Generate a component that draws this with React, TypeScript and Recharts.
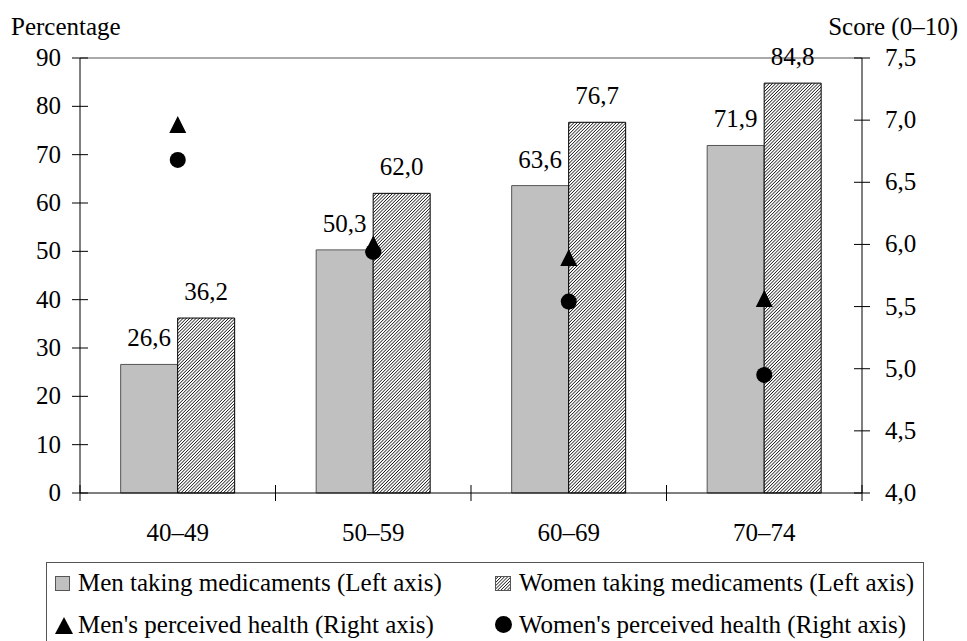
import {
  ComposedChart,
  Bar,
  Scatter,
  XAxis,
  YAxis,
  ReferenceLine,
  LabelList,
} from "recharts";

const ageGroups = ["40–49", "50–59", "60–69", "70–74"];
const menMedicaments = [26.6, 50.3, 63.6, 71.9];
const womenMedicaments = [36.2, 62.0, 76.7, 84.8];
const menHealth = [6.96, 6.0, 5.89, 5.56];
const womenHealth = [6.68, 5.94, 5.54, 4.95];
const leftTicks = [0, 10, 20, 30, 40, 50, 60, 70, 80, 90];
const rightTicks = [4.0, 4.5, 5.0, 5.5, 6.0, 6.5, 7.0, 7.5];

const data = ageGroups.map((group, i) => ({
  group,
  menMed: menMedicaments[i],
  womenMed: womenMedicaments[i],
  menHealth: menHealth[i],
  womenHealth: womenHealth[i],
}));

const FONT = '"Liberation Serif", "Times New Roman", serif';
const FS = 25;
const W = 967;
const H = 641;
const LEFT_W = 80;
const RIGHT_W = 105;
const BAND = (W - LEFT_W - RIGHT_W) / ageGroups.length;

const comma = (v: any) => Number(v).toFixed(1).replace(".", ",");

// ticks cross the axis line, so draw them ourselves
const LeftTick = ({ x, y, payload }: any) => (
  <g>
    <line x1={x + 11} x2={x + 27} y1={y} y2={y} stroke="#000" />
    <text x={x} y={y} dy={8} textAnchor="end" fontFamily={FONT} fontSize={FS} fill="#000">
      {payload.value}
    </text>
  </g>
);

const RightTick = ({ x, y, payload }: any) => (
  <g>
    <line x1={x - 31} x2={x - 15} y1={y} y2={y} stroke="#000" />
    <text x={x} y={y} dy={8} textAnchor="start" fontFamily={FONT} fontSize={FS} fill="#000">
      {comma(payload.value)}
    </text>
  </g>
);

const BottomTick = ({ x, y, payload, index }: any) => {
  const axisY = y - 10;
  return (
    <g>
      {index === 0 && (
        <line x1={x - BAND / 2} x2={x - BAND / 2} y1={axisY - 8} y2={axisY + 8} stroke="#000" />
      )}
      <line x1={x + BAND / 2} x2={x + BAND / 2} y1={axisY - 8} y2={axisY + 8} stroke="#000" />
      <text x={x} y={axisY + 48} textAnchor="middle" fontFamily={FONT} fontSize={FS} fill="#000">
        {payload.value}
      </text>
    </g>
  );
};

const Triangle = ({ cx, cy }: any) => (
  <polygon
    points={`${cx},${cy - 9} ${cx - 8.5},${cy + 8} ${cx + 8.5},${cy + 8}`}
    fill="#000"
  />
);

const Dot = ({ cx, cy }: any) => <circle cx={cx} cy={cy} r={8} fill="#000" />;

const HatchDef = ({ id }: { id: string }) => (
  <pattern id={id} width="2.3" height="2.3" patternUnits="userSpaceOnUse" patternTransform="rotate(45)">
    <rect width="2.3" height="2.3" fill="#fff" />
    <line x1="0" y1="0" x2="0" y2="2.3" stroke="#000" strokeWidth="1.35" />
  </pattern>
);

const txt: React.CSSProperties = {
  position: "absolute",
  fontFamily: FONT,
  fontSize: FS,
  lineHeight: "25px",
  whiteSpace: "nowrap",
};

export default function App() {
  return (
    <div style={{ position: "absolute", left: 0, top: 0, width: W, height: H, background: "#fff", overflow: "hidden" }}>
      <div style={{ ...txt, left: 11, top: 14 }}>Percentage</div>
      <div style={{ ...txt, right: 9, top: 14 }}>Score (0–10)</div>

      <ComposedChart
        width={W}
        height={H}
        data={data}
        margin={{ top: 58, right: 0, bottom: 108, left: 0 }}
        barCategoryGap="20.8%"
        barGap={0}
      >
        <defs>
          <HatchDef id="hatch" />
        </defs>
        <XAxis
          dataKey="group"
          height={40}
          axisLine={{ stroke: "#000" }}
          tickLine={false}
          tickSize={0}
          tickMargin={10}
          tick={<BottomTick />}
        />
        <YAxis
          yAxisId="left"
          width={LEFT_W}
          domain={[0, 90]}
          ticks={leftTicks}
          interval={0}
          axisLine={{ stroke: "#000" }}
          tickLine={false}
          tickSize={0}
          tickMargin={19}
          tick={<LeftTick />}
        />
        <YAxis
          yAxisId="right"
          orientation="right"
          width={RIGHT_W}
          domain={[4, 7.5]}
          ticks={rightTicks}
          interval={0}
          axisLine={{ stroke: "#000" }}
          tickLine={false}
          tickSize={0}
          tickMargin={23}
          tick={<RightTick />}
        />
        <ReferenceLine yAxisId="left" y={90} stroke="#8c8c8c" strokeWidth={1.5} />
        <Bar yAxisId="left" dataKey="menMed" fill="#c0c0c0" stroke="#555" isAnimationActive={false}>
          <LabelList dataKey="menMed" position="top" offset={18} formatter={comma} fontFamily={FONT} fontSize={FS} fill="#000" />
        </Bar>
        <Bar yAxisId="left" dataKey="womenMed" fill="url(#hatch)" stroke="#000" isAnimationActive={false}>
          <LabelList dataKey="womenMed" position="top" offset={18} formatter={comma} fontFamily={FONT} fontSize={FS} fill="#000" />
        </Bar>
        <Scatter yAxisId="right" dataKey="menHealth" shape={<Triangle />} isAnimationActive={false} />
        <Scatter yAxisId="right" dataKey="womenHealth" shape={<Dot />} isAnimationActive={false} />
      </ComposedChart>

      {/* legend box */}
      <div style={{ position: "absolute", left: 46, top: 562, width: 876, height: 120, border: "1px solid #555" }} />
      <div style={{ position: "absolute", left: 55, top: 576, width: 13, height: 13, background: "#c0c0c0", border: "1px solid #555" }} />
      <div style={{ ...txt, left: 78, top: 570 }}>Men taking medicaments (Left axis)</div>
      <svg style={{ position: "absolute", left: 495, top: 576 }} width={16} height={15}>
        <defs>
          <HatchDef id="hatch2" />
        </defs>
        <rect x={0.5} y={0.5} width={15} height={14} fill="url(#hatch2)" stroke="#555" />
      </svg>
      <div style={{ ...txt, left: 519, top: 570 }}>Women taking medicaments (Left axis)</div>
      <svg style={{ position: "absolute", left: 55, top: 617 }} width={18} height={17}>
        <polygon points="9,0 0,17 18,17" fill="#000" />
      </svg>
      <div style={{ ...txt, left: 78, top: 612 }}>Men's perceived health (Right axis)</div>
      <svg style={{ position: "absolute", left: 495, top: 616 }} width={17} height={17}>
        <circle cx={8.5} cy={8.5} r={8.5} fill="#000" />
      </svg>
      <div style={{ ...txt, left: 519, top: 612 }}>Women's perceived health (Right axis)</div>
    </div>
  );
}
